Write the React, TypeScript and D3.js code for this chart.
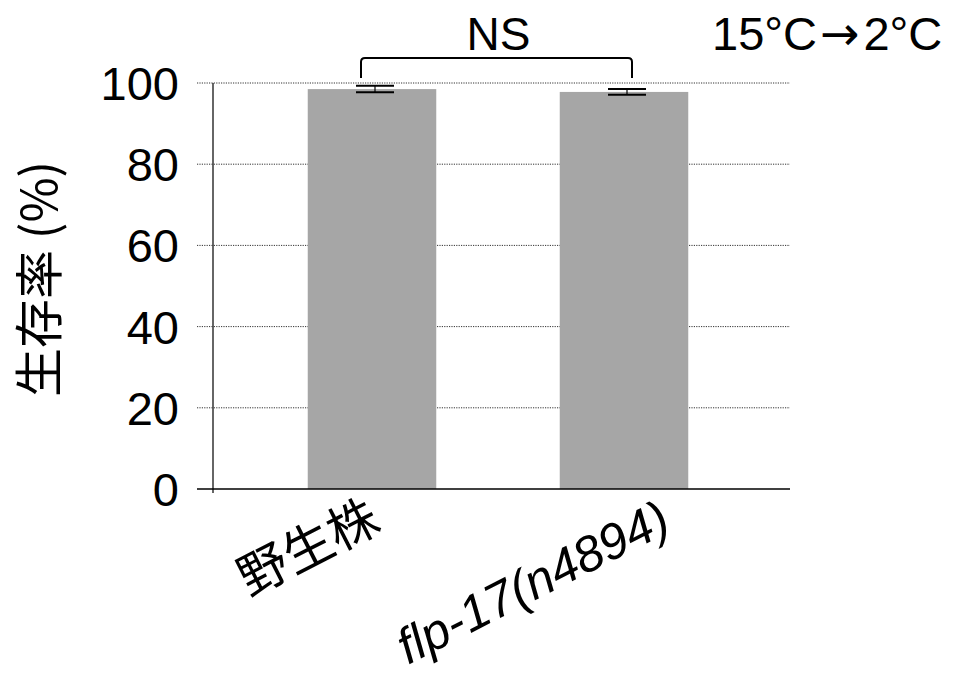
import React from "react";
import * as d3 from "d3";

const categories = ["野生株", "flp-17(n4894)"];
const italicCats = [false, true];
const means = [98.5, 97.8];
const errors = [0.8, 0.7];
const yTicks = [0, 20, 40, 60, 80, 100];
const yLabel = "生存率 (%)";
const sigLabel = "NS";
const condBefore = "15°C";
const condArrow = "→";
const condAfter = "2°C";

const W = 962;
const H = 679;
const FONT = "'Liberation Sans', Arial, Helvetica, sans-serif";
const CJK = "'Noto Sans CJK JP', 'Liberation Sans', sans-serif";

export default function App() {
  const x = d3
    .scaleBand<string>()
    .domain(categories)
    .range([246, 750])
    .paddingInner(0.49)
    .paddingOuter(0.245);
  const y = d3.scaleLinear().domain([0, 100]).range([489, 83]);
  const axisX = 213;
  const gridLeft = 197;
  const gridRight = 790;
  const labelOffsets = [
    { dx: 11, y: 529, fs: 50 },
    { dx: 49, y: 530, fs: 50 },
  ];
  const bx1 = x(categories[0])! + x.bandwidth() / 2 - 11;
  const bx2 = x(categories[1])! + x.bandwidth() / 2 + 8;
  const bTop = 58;
  const bBot = 78;
  const r = 4;

  return (
    <svg
      width={W}
      height={H}
      style={{ position: "absolute", left: 0, top: 0, background: "#fff" }}
    >
      {/* gridlines */}
      {yTicks
        .filter((t) => t > 0)
        .map((t) => (
          <line
            key={t}
            x1={gridLeft}
            x2={gridRight}
            y1={y(t)}
            y2={y(t)}
            stroke="#333"
            strokeWidth={1}
            strokeDasharray="1.2,1.2"
          />
        ))}
      {/* bars */}
      {categories.map((c, i) => (
        <rect
          key={c}
          x={x(c)}
          y={y(means[i])}
          width={x.bandwidth()}
          height={y(0) - y(means[i])}
          fill="#a6a6a6"
        />
      ))}
      {/* error bars */}
      {categories.map((c, i) => {
        const cx = x(c)! + x.bandwidth() / 2 + 3;
        const hw = 19;
        const lo = y(means[i] - errors[i]);
        const hi = y(means[i] + errors[i]);
        return (
          <g key={"e" + c} stroke="#000">
            <line x1={cx} x2={cx} y1={hi} y2={lo} strokeWidth={1.2} />
            <line x1={cx - hw} x2={cx + hw} y1={hi} y2={hi} strokeWidth={2} />
            <line x1={cx - hw} x2={cx + hw} y1={lo} y2={lo} strokeWidth={2} />
          </g>
        );
      })}
      {/* axes */}
      <line x1={axisX} x2={axisX} y1={y(100)} y2={y(0) + 4} stroke="#333" strokeWidth={1.5} />
      <line x1={gridLeft} x2={gridRight} y1={y(0)} y2={y(0)} stroke="#000" strokeWidth={1.5} />
      {/* y tick labels */}
      {yTicks.map((t) => (
        <text
          key={"t" + t}
          x={179}
          y={y(t) + 17}
          textAnchor="end"
          fontFamily={FONT}
          fontSize={47}
          fill="#000"
        >
          {t}
        </text>
      ))}
      {/* y label */}
      <text
        transform={`translate(57, 279) rotate(-90)`}
        textAnchor="middle"
        fontFamily={CJK}
        fontSize={49}
        fill="#000"
      >
        {yLabel}
      </text>
      {/* x labels */}
      {categories.map((c, i) => {
        const ax = x(c)! + x.bandwidth() / 2 + labelOffsets[i].dx;
        const ay = labelOffsets[i].y;
        return (
          <text
            key={"x" + c}
            transform={`translate(${ax}, ${ay}) rotate(-27)`}
            textAnchor="end"
            fontFamily={italicCats[i] ? FONT : CJK}
            fontStyle={italicCats[i] ? "italic" : "normal"}
            fontSize={labelOffsets[i].fs}
            fill="#000"
          >
            {c}
          </text>
        );
      })}
      {/* significance bracket */}
      <path
        d={`M${bx1},${bBot} L${bx1},${bTop + r} Q${bx1},${bTop} ${bx1 + r},${bTop} L${bx2 - r},${bTop} Q${bx2},${bTop} ${bx2},${bTop + r} L${bx2},${bBot}`}
        fill="none"
        stroke="#000"
        strokeWidth={2}
      />
      <text
        x={(bx1 + bx2) / 2 + 2}
        y={50}
        textAnchor="middle"
        fontFamily={FONT}
        fontSize={46}
        fill="#000"
      >
        {sigLabel}
      </text>
      <text x={712} y={50} fontFamily={FONT} fontSize={47} fill="#000">
        {condBefore}
        <tspan dx={3} fontFamily="'DejaVu Sans', sans-serif">{condArrow}</tspan>
        <tspan dx={4}>{condAfter}</tspan>
      </text>
    </svg>
  );
}
